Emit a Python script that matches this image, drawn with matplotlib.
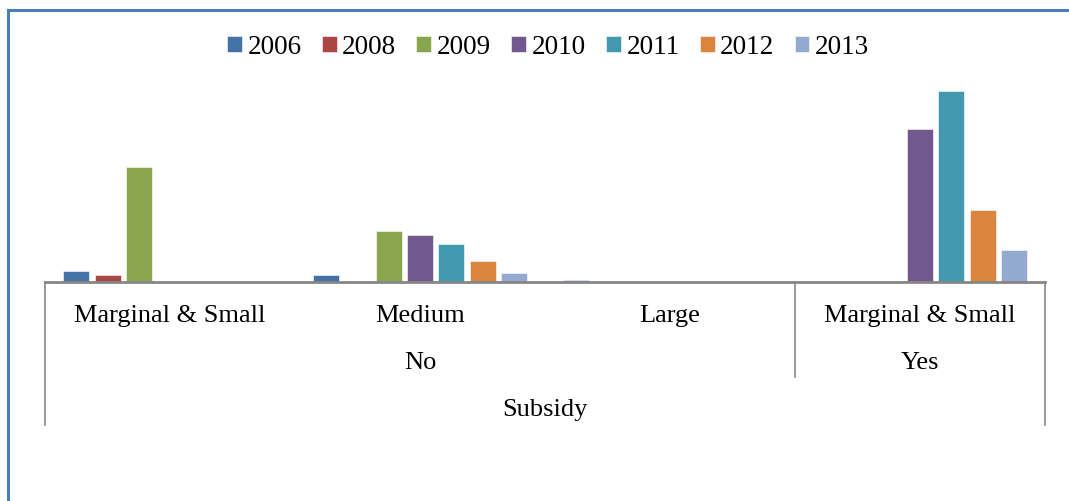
import numpy as np
import matplotlib
matplotlib.use('Agg')
import matplotlib.pyplot as plt
from matplotlib.lines import Line2D
from matplotlib.transforms import offset_copy

plt.rcParams['font.family'] = ['Liberation Serif', 'DejaVu Serif']

# Farm size groups, split by subsidy status
sizes = ['Marginal & Small', 'Medium', 'Large', 'Marginal & Small']
subsidy = ['No', 'Yes']
years = ['2006', '2008', '2009', '2010', '2011', '2012', '2013']

v2006 = [11, 7, 2, 0]
v2008 = [7, 0, 0, 0]
v2009 = [115, 51, 0, 0]
v2010 = [0, 47, 0, 153]
v2011 = [0, 38, 0, 191]
v2012 = [0, 21, 0, 72]
v2013 = [0, 9, 0, 32]

colors = ['#4572A7', '#AA4643', '#89A54E', '#71588F', '#4198AF', '#DB843D', '#93A9CF']

series = [v2006, v2008, v2009, v2010, v2011, v2012, v2013]

fig = plt.figure(figsize=(10.69, 5.01), dpi=100)
ax = fig.add_axes([45 / 1069, 1 - 282 / 501, 1000 / 1069, 200 / 501])

x = np.arange(len(sizes))
slot = 1 / 8
for i, (vals, col, yr) in enumerate(zip(series, colors, years)):
    ax.bar(x + (i - 3) * slot, vals, width=0.104, color=col, label=yr,
           edgecolor='white', linewidth=0.4)

ax.set_xlim(-0.5, 3.5)
ax.set_ylim(0, 200)
ax.set_xticks([])
ax.set_yticks([])
for s in ['top', 'right', 'left']:
    ax.spines[s].set_visible(False)
ax.spines['bottom'].set_color('#868686')
ax.spines['bottom'].set_linewidth(2)

xt = ax.get_xaxis_transform()
grey = '#868686'
fs = 19

# multi-level category axis
def cat_label(xpos, text, drop):
    ax.text(xpos, 0, text, fontsize=fs, ha='center', va='baseline',
            transform=offset_copy(xt, fig=fig, y=-drop, units='dots'))

for xi, lab in zip(x, sizes):
    cat_label(xi, lab, 40)
cat_label(1, subsidy[0], 87)
cat_label(3, subsidy[1], 87)
cat_label(1.5, 'Subsidy', 134)

ax.plot([-0.5, -0.5], [0, -143 / 200], color=grey, lw=1.2, transform=xt, clip_on=False)
ax.plot([3.5, 3.5], [0, -143 / 200], color=grey, lw=1.2, transform=xt, clip_on=False)
ax.plot([2.5, 2.5], [0, -95 / 200], color=grey, lw=1.2, transform=xt, clip_on=False)

fig.legend(loc='center', bbox_to_anchor=(548 / 1069, 1 - 47 / 501), ncol=7,
           frameon=False, fontsize=19.5, handlelength=0.55, handleheight=0.55,
           handletextpad=0.2, columnspacing=0.75, borderaxespad=0)

# outer chart frame
blue = '#4A7EBB'
fig.add_artist(Line2D([8 / 1069, 8 / 1069], [0, 1 - 10 / 501], color=blue, lw=2.2))
fig.add_artist(Line2D([8 / 1069, 1], [1 - 10 / 501, 1 - 10 / 501], color=blue, lw=2.2))

fig.savefig('out.png', dpi=100)
